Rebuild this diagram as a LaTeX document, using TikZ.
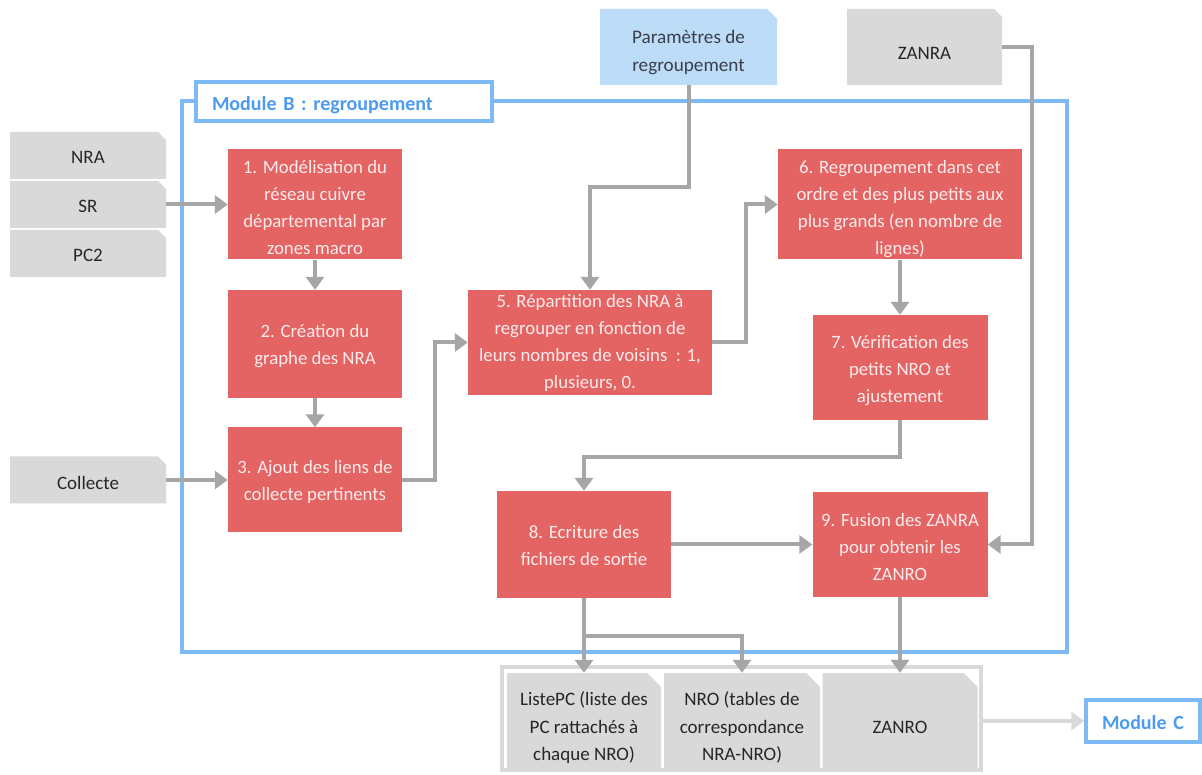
\documentclass[tikz,border=0pt]{standalone}
\usepackage{fontspec}
\setmainfont{Carlito}
\usetikzlibrary{arrows.meta}
\definecolor{boxred}{HTML}{E46464}
\definecolor{boxtxt}{HTML}{FDEBEB}
\definecolor{gfill}{HTML}{D9D9D9}
\definecolor{pfill}{HTML}{BDDCF8}
\definecolor{bluefr}{HTML}{7DB9F4}
\definecolor{bluetxt}{HTML}{4C9BEE}
\definecolor{arrgray}{HTML}{A6A6A6}
\definecolor{lightarr}{HTML}{D9D9D9}
\definecolor{darktxt}{HTML}{262626}
\definecolor{paramtxt}{HTML}{3A3F4A}
\newcommand{\hb}[1]{\rule{0pt}{#1}}
\tikzset{
  chamf/.style args={#1 cut #2}{path picture={\fill[#1] (path picture bounding box.south west) -- (path picture bounding box.north west) -- ([xshift=-#2]path picture bounding box.north east) -- ([yshift=-#2]path picture bounding box.north east) -- (path picture bounding box.south east) -- cycle;}},
  tx/.style={execute at begin node={\rule{0pt}{#1}}, execute at end node={\rule[-5pt]{0pt}{5pt}}},
  mx/.style={execute at end node={\rule[-5pt]{0pt}{5pt}}},
  redbox/.style={fill=boxred, text=boxtxt, align=center, inner sep=0pt, mx, font=\fontsize{18.8}{27}\selectfont},
  inbox/.style={fill=white, chamf=gfill cut 8pt, text=darktxt, align=center, inner sep=0pt, font=\fontsize{19}{27}\selectfont},
  outbox/.style={fill=white, chamf=gfill cut 14pt, text=darktxt, align=center, inner sep=0pt, font=\fontsize{19}{27.5}\selectfont},
  parbox/.style={fill=white, chamf=pfill cut 10pt, text=paramtxt, align=center, inner sep=0pt, mx, font=\fontsize{19.2}{28}\selectfont},
  bluebox/.style={draw=bluefr, line width=3.5pt},
  labelbox/.style={bluebox, fill=white, text=bluetxt, align=left, inner ysep=0pt, inner xsep=16pt, font=\fontsize{20}{24}\selectfont\bfseries},
  arr/.style={draw=arrgray, line width=4pt, -{Triangle[length=13pt,width=18pt]}},
  lightarrow/.style={draw=lightarr, line width=4pt, -{Triangle[length=13pt,width=18pt]}},
}
\begin{document}
\begin{tikzpicture}[x=1pt,y=1pt]
\fill[white] (0,0) rectangle (1202,774);
\useasboundingbox (0,0) rectangle (1202,774);

% Module B frame
\node[bluebox, minimum width=885pt, minimum height=551pt] (modB) at (624.5,397.5) {};
\node[labelbox, text width=264pt, minimum height=39pt, tx=24pt] (modBlab) at (344,672.5) {Module B : regroupement};

% inputs
\node[inbox, minimum width=156pt, minimum height=47pt, tx=22pt] (nra) at (88,618.5) {NRA};
\node[inbox, minimum width=156pt, minimum height=47pt, tx=22pt] (sr) at (88,569.5) {SR};
\node[inbox, minimum width=156pt, minimum height=47pt, tx=22pt] (pc2) at (88,520.5) {PC2};
\node[inbox, minimum width=156pt, minimum height=47pt, tx=25pt] (col) at (88,294) {Collecte};
\node[parbox, minimum width=177pt, minimum height=76pt] (param) at (688.5,727) {\hb{27pt}Paramètres de\\regroupement};
\node[inbox, minimum width=155pt, minimum height=76pt, tx=31pt] (zanra) at (924.5,727) {ZANRA};

% process boxes
\node[redbox, minimum width=174pt, minimum height=105pt] (b1) at (315,569.5) {\hb{24pt}1. Modélisation du\\réseau cuivre\\départemental par\\zones macro};
\node[redbox, minimum width=174pt, minimum height=108pt] (b2) at (315,430) {\hb{19pt}2. Création du\\graphe des NRA};
\node[redbox, minimum width=174pt, minimum height=105pt] (b3) at (315,294) {\hb{20pt}3. Ajout des liens de\\collecte pertinents};
\node[redbox, minimum width=244pt, minimum height=105pt] (b5) at (590,431.5) {\hb{16pt}5. Répartition des NRA à\\regrouper en fonction de\\leurs nombres de voisins \ : 1,\\plusieurs, 0.};
\node[redbox, minimum width=244pt, minimum height=105pt] (b6) at (900,569.5) {\hb{24pt}6. Regroupement dans cet\\ordre et des plus petits aux\\plus grands (en nombre de\\lignes)};
\node[redbox, minimum width=175pt, minimum height=105pt] (b7) at (900,406.5) {\hb{22pt}7. Vérification des\\petits NRO et\\ajustement};
\node[redbox, minimum width=174pt, minimum height=107pt] (b8) at (584,229.5) {\hb{21pt}8. Ecriture des\\fichiers de sortie};
\node[redbox, minimum width=175pt, minimum height=105pt] (b9) at (900,229.5) {\hb{23pt}9. Fusion des ZANRA\\pour obtenir les\\ZANRO};

% outputs
\node[draw=lightarr, line width=4pt, minimum width=479pt, minimum height=103pt] (outfr) at (741.5,55.5) {};
\node[outbox, mx, minimum width=154pt, minimum height=97pt] (listepc) at (584,52.5) {\hb{28pt}ListePC (liste des\\PC rattachés à\\chaque NRO)};
\node[outbox, mx, minimum width=156pt, minimum height=97pt] (nro) at (742,52.5) {\hb{28pt}NRO (tables de\\correspondance\\NRA-NRO)};
\node[outbox, minimum width=155pt, minimum height=97pt, tx=28pt] (zanro) at (900,52.5) {ZANRO};
\node[bluebox, fill=white, text=bluetxt, align=left, text width=82pt, inner xsep=16pt, inner ysep=0pt, minimum height=42pt, tx=22pt, font=\fontsize{20}{24}\selectfont\bfseries] (modC) at (1143,53) {Module C};

% connectors
\draw[arr] (sr.east) -- (b1.west);
\draw[arr] (b1.south) -- (b2.north);
\draw[arr] (b2.south) -- (b3.north);
\draw[arr] (col.east) -- (b3.west);
\draw[arr] (b3.east) -- ++(33,0) |- (b5.west);
\draw[arr] (b5.east) -- ++(34,0) |- (b6.west);
\draw[arr] (param.south) -- ++(0,-102) -| (b5.north);
\draw[arr] (b6.south) -- (b7.north);
\draw[arr] (b7.south) -- ++(0,-37) -| (b8.north);
\draw[arr] (b8.east) -- (b9.west);
\draw[arr] (zanra.east) -- ++(30,0) |- (b9.east);
\draw[arr] (b8.south) -- (listepc.north);
\draw[arr] (b8.south) -- ++(0,-38) -| (nro.north);
\draw[arr] (b9.south) -- (zanro.north);
\draw[lightarrow] (modC.west -| outfr.east) -- (modC.west);
\end{tikzpicture}
\end{document}
